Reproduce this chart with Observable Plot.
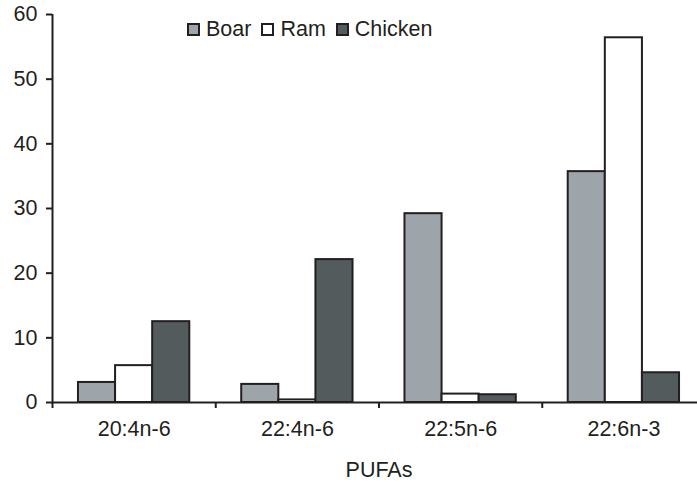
<!DOCTYPE html>
<html>
<head>
<meta charset="utf-8">
<script src="https://cdn.jsdelivr.net/npm/d3@7"></script>
<script src="https://cdn.jsdelivr.net/npm/@observablehq/plot@0.6"></script>
<style>
  html, body { margin: 0; padding: 0; background: #fff; overflow: hidden; }
  #wrap { position: relative; width: 697px; height: 490px; font-family: "Liberation Sans", Arial, sans-serif; color: #231f20; }
  #wrap svg { color: #231f20; }
  #wrap svg line, #wrap svg path { stroke-width: 2px; }
  #legend { position: absolute; left: 187px; top: 17px; display: flex; align-items: center; font-size: 21.5px; line-height: 24px; }
  #legend .item { display: flex; align-items: center; margin-right: 10px; }
  #legend .sw { width: 9px; height: 9px; border: 2px solid #231f20; margin-right: 6px; }
</style>
</head>
<body>
<div id="wrap"><div id="legend"></div></div>
<script>
const categories = ["20:4n-6", "22:4n-6", "22:5n-6", "22:6n-3"];
const series = ["Boar", "Ram", "Chicken"];
const boar = [3.1, 2.8, 29.2, 35.7];
const ram = [5.7, 0.4, 1.3, 56.4];
const chicken = [12.5, 22.1, 1.2, 4.6];
const colors = ["#9da4aa", "#ffffff", "#535b5d"];
const yTicks = [0, 10, 20, 30, 40, 50, 60];

const values = {Boar: boar, Ram: ram, Chicken: chicken};
const rows = [];
categories.forEach((c, ci) => series.forEach(s => rows.push({ci, category: c, series: s, value: values[s][ci]})));

// sub-band layout of the three series within each category slot
const sub = d3.scaleBand().domain(series).range([0, 1]).paddingInner(0).paddingOuter(0.7);

const chart = Plot.plot({
  width: 697,
  height: 490,
  marginTop: 14,
  marginBottom: 88,
  marginLeft: 52,
  marginRight: -8,
  style: {fontFamily: '"Liberation Sans", Arial, sans-serif', fontSize: "21.5px", color: "#231f20", background: "#fff"},
  x: {type: "linear", domain: [0, categories.length], ticks: d3.range(categories.length + 1), tickFormat: () => "", tickSize: 6, label: null},
  y: {domain: [0, 60], ticks: yTicks, tickSize: 6, tickPadding: 9, label: null},
  color: {domain: series, range: colors},
  marks: [
    Plot.rectY(rows, {
      x1: d => d.ci + sub(d.series),
      x2: d => d.ci + sub(d.series) + sub.bandwidth(),
      y: "value",
      fill: "series",
      stroke: "#231f20",
      strokeWidth: 2
    }),
    Plot.ruleX([0], {stroke: "#231f20", strokeWidth: 2}),
    Plot.ruleY([0], {stroke: "#231f20", strokeWidth: 2}),
    Plot.text(categories, {x: (d, i) => i + 0.5, frameAnchor: "bottom", dy: 33, text: d => d, fill: "#231f20", fontSize: 21.5}),
    Plot.text(["PUFAs"], {frameAnchor: "bottom", dy: 74, text: d => d, fill: "#231f20", fontSize: 21.5})
  ]
});
document.getElementById("wrap").prepend(chart);

const legend = document.getElementById("legend");
series.forEach((s, i) => {
  const item = document.createElement("div");
  item.className = "item";
  const sw = document.createElement("div");
  sw.className = "sw";
  sw.style.background = colors[i];
  const label = document.createElement("span");
  label.textContent = s;
  item.append(sw, label);
  legend.append(item);
});
</script>
</body>
</html>
